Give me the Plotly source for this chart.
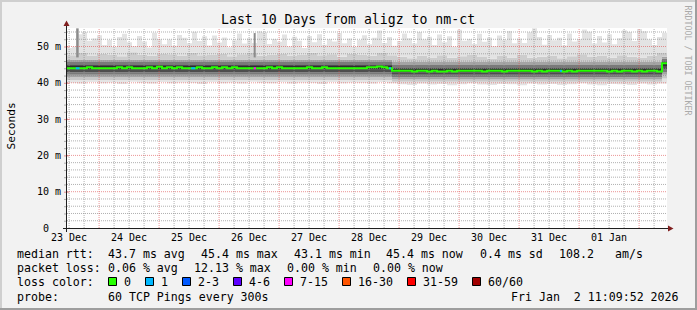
import pandas as pd
import plotly.graph_objects as go

# ---------------- data ----------------
start = pd.Timestamp("2025-12-23 11:10")
end = pd.Timestamp("2026-01-02 11:10")

# median rtt per 2-hour bucket (ms)
median_rtt = [
    44.0, 44.0, 44.0, 44.0, 44.3, 44.0, 44.0, 44.0, 44.0, 44.0,
    44.3, 44.0, 44.3, 44.0, 44.0, 44.0, 44.3, 44.0, 44.4, 44.0,
    44.3, 44.0, 44.3, 44.0, 44.0, 44.0, 44.3, 44.0, 44.0, 44.3,
    44.0, 44.3, 44.0, 44.3, 44.0, 44.0, 44.0, 44.0, 44.0, 44.0,
    44.3, 44.0, 44.3, 44.0, 44.0, 44.0, 44.0, 44.0, 44.3, 44.0,
    44.0, 44.3, 44.0, 44.0, 44.0, 44.0, 44.0, 44.0, 44.0, 44.0,
    44.3, 44.3, 44.5, 44.3, 44.0, 43.3, 43.3, 43.3, 43.3, 43.1,
    43.3, 43.3, 43.1, 43.3, 43.1, 43.1, 43.3, 43.1, 43.3, 43.3,
    43.3, 43.3, 43.3, 43.1, 43.3, 43.3, 43.3, 43.1, 43.3, 43.3,
    43.3, 43.3, 43.3, 43.1, 43.3, 43.1, 43.3, 43.3, 43.3, 43.1,
    43.3, 43.1, 43.3, 43.3, 43.3, 43.3, 43.3, 43.3, 43.1, 43.3,
    43.1, 43.3, 43.3, 43.1, 43.3, 43.1, 43.3, 43.3, 43.1, 45.4,
]

# highest ping per 2-hour bucket (ms)
smoke_max = [
    49.6, 49.9, 53.4, 54.0, 51.6, 52.2, 53.1, 50.4, 51.8, 49.9,
    52.6, 53.5, 51.2, 50.1, 52.9, 51.4, 49.7, 53.8, 52.0, 50.6,
    51.9, 50.2, 53.2, 52.4, 50.9, 54.1, 51.5, 52.8, 50.3, 53.0,
    51.1, 52.5, 49.8, 51.7, 53.6, 50.8, 52.3, 51.0, 54.2, 53.9,
    50.7, 52.1, 51.3, 53.3, 50.0, 52.7, 51.6, 49.6, 52.9, 51.2,
    53.4, 50.5, 52.0, 51.4, 53.7, 50.9, 52.2, 49.9, 51.8, 53.1,
    50.6, 52.4, 54.4, 51.0, 52.6, 50.2, 51.5, 53.6, 52.3, 50.8,
    54.0, 51.9, 52.7, 50.4, 53.3, 51.2, 52.8, 49.9, 54.6, 51.6,
    52.1, 50.7, 53.5, 51.3, 52.5, 50.1, 53.0, 51.8, 54.3, 50.9,
    52.2, 51.0, 53.9, 55.0, 52.6, 50.5, 53.2, 51.7, 52.4, 50.3,
    53.6, 51.4, 52.0, 54.7, 54.1, 50.8, 52.9, 51.1, 53.4, 50.6,
    52.3, 54.5, 54.0, 51.5, 54.8, 54.2, 51.9, 50.4, 52.6, 53.8,
]

# upper smoke edge (95th pct) per 4-hour bucket (ms)
smoke_p95 = [
    47.6, 48.2, 47.4, 48.0, 47.8, 47.3, 48.4, 47.7, 47.5, 48.1,
    47.9, 47.4, 48.3, 47.6, 47.8, 48.0, 47.3, 47.9, 48.2, 47.5,
    47.7, 48.1, 47.4, 47.8, 48.3, 47.6, 47.9, 47.2, 48.0, 47.7,
    47.5, 48.2, 47.6, 47.2, 46.8, 47.5, 47.0, 47.6, 46.9, 47.3,
    47.8, 47.1, 46.7, 47.4, 47.0, 47.7, 46.9, 47.2, 47.5, 46.8,
    47.3, 47.9, 47.1, 47.4, 46.9, 47.6, 47.2, 47.0, 47.5, 48.2,
]

# lowest ping per 4-hour bucket (ms)
smoke_min = [
    40.0, 39.8, 40.2, 39.9, 40.1, 39.7, 40.3, 40.0, 39.8, 40.2,
    39.9, 40.1, 40.0, 39.7, 40.2, 39.9, 40.1, 39.8, 40.3, 40.0,
    39.9, 40.2, 39.8, 40.1, 40.0, 39.7, 40.2, 39.9, 40.1, 40.0,
    39.8, 40.2, 39.9, 39.6, 39.4, 39.8, 39.5, 39.7, 39.3, 39.6,
    39.9, 39.5, 39.4, 39.7, 39.6, 39.3, 39.8, 39.5, 39.7, 39.4,
    39.6, 39.9, 39.5, 39.3, 39.7, 39.6, 39.4, 39.8, 39.5, 39.8,
]

# inner smoke percentiles, constant over three periods (ms)
segment_starts = ["2025-12-23 11:10", "2025-12-28 21:10", "2026-01-02 09:10"]
smoke_p85 = [46.4, 45.7, 47.2]
smoke_p75 = [45.7, 44.9, 46.7]
smoke_p65 = [45.1, 44.3, 46.2]
smoke_p55 = [44.6, 43.8, 45.8]
smoke_p45 = [43.6, 42.9, 44.6]
smoke_p35 = [42.9, 42.2, 43.8]
smoke_p25 = [42.2, 41.5, 43.0]
smoke_p15 = [41.5, 40.9, 42.2]
smoke_p5 = [40.8, 40.3, 41.2]

# short bursts of very slow pings
spike_starts = ["2025-12-23 14:50", "2025-12-26 13:50"]
spike_hours = [1.0, 0.8]
spike_tops = [55.0, 53.7]
spike_bottoms = [47.0, 47.0]

# packet-loss events on the median line
loss_starts = ["2025-12-23 14:40", "2025-12-25 12:50", "2025-12-26 13:50",
               "2025-12-28 20:00", "2025-12-31 16:20"]
loss_hours = [1.5, 1.6, 0.9, 0.8, 0.8]
loss_counts = [1, 1, 8, 1, 1]

loss_labels = ["0", "1", "2-3", "4-6", "7-15", "16-30", "31-59", "60/60"]
loss_limits = [0, 1, 3, 6, 15, 30, 59, 60]
loss_colors = ["#26ff00", "#00b8ff", "#0059ff", "#5e00ff",
               "#ff00ff", "#ff5500", "#ff0000", "#a10000"]

day_labels = ["23 Dec", "24 Dec", "25 Dec", "26 Dec", "27 Dec",
              "28 Dec", "29 Dec", "30 Dec", "31 Dec", "01 Jan"]
y_ticks = [0, 10, 20, 30, 40, 50]
y_labels = ["0\u00a0\u00a0", "10 m", "20 m", "30 m", "40 m", "50 m"]

# ---------------- geometry ----------------
W, H = 697, 310
L, R, T, B = 67, 30, 28, 82
PW, PH = W - L - R, H - T - B
YMAX = 55.1
MONO = "DejaVu Sans Mono"


def px(x):
    return (x - L) / PW


def py(y):
    return (T + PH - y) / PH


t2 = pd.date_range(start, periods=len(median_rtt), freq="2h")
t4 = pd.date_range(start, periods=len(smoke_p95), freq="4h")
tseg = pd.to_datetime(segment_starts)


def step(times, vals):
    return list(times) + [end], list(vals) + [vals[-1]]


fig = go.Figure()

levels = [
    (t4, smoke_min, None),
    (tseg, smoke_p5, "#e4e4e4"),
    (tseg, smoke_p15, "#c8c8c8"),
    (tseg, smoke_p25, "#a4a4a4"),
    (tseg, smoke_p35, "#7a7a7a"),
    (tseg, smoke_p45, "#4e4e4e"),
    (t2, median_rtt, "#2e2e2e"),
    (tseg, smoke_p55, "#2e2e2e"),
    (tseg, smoke_p65, "#4e4e4e"),
    (tseg, smoke_p75, "#7a7a7a"),
    (tseg, smoke_p85, "#a4a4a4"),
    (t4, smoke_p95, "#cdcdcd"),
    (t2, smoke_max, "#e3e3e3"),
]
for times, vals, col in levels:
    xs, ys = step(times, vals)
    fig.add_trace(go.Scatter(
        x=xs, y=ys, mode="lines", line=dict(width=0, shape="hv"),
        fill=None if col is None else "tonexty",
        fillcolor=col, hoverinfo="skip", showlegend=False))

for s, h, top, bot in zip(spike_starts, spike_hours, spike_tops, spike_bottoms):
    a = pd.Timestamp(s)
    b = a + pd.Timedelta(hours=h)
    fig.add_trace(go.Scatter(
        x=[a, a, b, b], y=[bot, top, top, bot], mode="lines",
        line=dict(width=0), fill="toself", fillcolor="#8c8c8c",
        hoverinfo="skip", showlegend=False))

# grid (drawn over the smoke, under the median)
grid_t = pd.date_range("2025-12-23 12:00", "2026-01-02 06:00", freq="6h")
vmin_x, vmin_y, vmaj_x, vmaj_y = [], [], [], []
for g in grid_t:
    if g.hour == 0:
        vmaj_x += [g, g, None]
        vmaj_y += [0, YMAX, None]
    else:
        vmin_x += [g, g, None]
        vmin_y += [0, YMAX, None]
hmin_x, hmin_y, hmaj_x, hmaj_y = [], [], [], []
for v in range(2, 55, 2):
    if v % 10 == 0:
        hmaj_x += [start, end, None]
        hmaj_y += [v, v, None]
    else:
        hmin_x += [start, end, None]
        hmin_y += [v, v, None]
GRID = "rgba(143,143,143,0.7)"
MGRID = "rgba(222,79,79,0.6)"
for xs, ys, col in [(vmin_x, vmin_y, GRID), (hmin_x, hmin_y, GRID),
                    (vmaj_x, vmaj_y, MGRID), (hmaj_x, hmaj_y, MGRID)]:
    fig.add_trace(go.Scatter(
        x=xs, y=ys, mode="lines", line=dict(width=1, color=col, dash="1px,1px"),
        hoverinfo="skip", showlegend=False))

xs, ys = step(t2, median_rtt)
fig.add_trace(go.Scatter(x=xs, y=ys, mode="lines",
                         line=dict(width=2, color=loss_colors[0], shape="hv"),
                         hoverinfo="skip", showlegend=False))


def loss_color(n):
    for lim, c in zip(loss_limits, loss_colors):
        if n <= lim:
            return c
    return loss_colors[-1]


for s, h, n in zip(loss_starts, loss_hours, loss_counts):
    a = pd.Timestamp(s)
    b = a + pd.Timedelta(hours=h)
    idx = int((a - start) / pd.Timedelta(hours=2))
    m = median_rtt[idx]
    fig.add_trace(go.Scatter(x=[a, b], y=[m, m], mode="lines",
                             line=dict(width=2, color=loss_color(n)),
                             hoverinfo="skip", showlegend=False))

# ---------------- decorations ----------------
shapes = []
# frame shading
shapes += [
    dict(type="rect", xref="paper", yref="paper", x0=px(0), x1=px(W), y0=py(0), y1=py(2),
         fillcolor="#cfcfcf", line=dict(width=0), layer="above"),
    dict(type="rect", xref="paper", yref="paper", x0=px(0), x1=px(2), y0=py(0), y1=py(H),
         fillcolor="#cfcfcf", line=dict(width=0), layer="above"),
    dict(type="rect", xref="paper", yref="paper", x0=px(0), x1=px(W), y0=py(H - 2), y1=py(H),
         fillcolor="#9e9e9e", line=dict(width=0), layer="above"),
    dict(type="rect", xref="paper", yref="paper", x0=px(W - 2), x1=px(W), y0=py(0), y1=py(H),
         fillcolor="#9e9e9e", line=dict(width=0), layer="above"),
]
# small axis ticks (rrdtool style)
for v in range(2, 55, 2):
    major = v % 10 == 0
    shapes.append(dict(type="line", xref="paper", yref="paper",
                       x0=px(64 if not major else 64), x1=px(69 if major else 66.5),
                       y0=py(228.5 - v * PH / YMAX), y1=py(228.5 - v * PH / YMAX),
                       line=dict(color=MGRID if major else GRID, width=1), layer="above"))
# axes
AX = "#1f1f1f"
shapes += [
    dict(type="line", xref="paper", yref="paper", x0=px(63), x1=px(669), y0=py(228.5), y1=py(228.5),
         line=dict(color=AX, width=1), layer="above"),
    dict(type="line", xref="paper", yref="paper", x0=px(66.5), x1=px(66.5), y0=py(232), y1=py(25),
         line=dict(color=AX, width=1), layer="above"),
]
ARROW = "#801f1f"
shapes += [
    dict(type="path", xref="paper", yref="paper",
         path=f"M {px(668)},{py(225.5)} L {px(673.5)},{py(228.5)} L {px(668)},{py(231.5)} Z",
         fillcolor=ARROW, line=dict(color=ARROW, width=0), layer="above"),
    dict(type="path", xref="paper", yref="paper",
         path=f"M {px(63.5)},{py(26)} L {px(66.5)},{py(20.5)} L {px(69.5)},{py(26)} Z",
         fillcolor=ARROW, line=dict(color=ARROW, width=0), layer="above"),
]

annotations = []


def ann(text, x, y, size=11.6, xanchor="left", color="#000000", angle=0):
    annotations.append(dict(
        text=text, x=px(x), y=py(y), xref="paper", yref="paper",
        xanchor=xanchor, yanchor="middle", showarrow=False, borderpad=0,
        textangle=angle, font=dict(family=MONO, size=size, color=color)))


ann("Last 10 Days from aligz to nm-ct", 347.5, 19.5, size=13.2, xanchor="center")
ann("Seconds", 10.5, 126, size=11.2, xanchor="center", angle=-90)
ann("RRDTOOL / TOBI OETIKER", 687.5, 60, size=8.3, xanchor="center",
    color="#aaaaaa", angle=90)

LY = [254, 268.3, 282, 296.5]
line1 = [("median rtt:", 16), ("43.7 ms avg", 107), ("45.4 ms max", 200),
         ("43.1 ms min", 293), ("45.4 ms now", 385), ("0.4 ms sd", 479),
         ("108.2", 558), ("am/s", 614)]
line2 = [("packet loss:", 16), ("0.06 % avg", 107), ("12.13 % max", 193),
         ("0.00 % min", 286), ("0.00 % now", 372)]
for t, x in line1:
    ann(t, x, LY[0])
for t, x in line2:
    ann(t, x, LY[1])
ann("loss color:", 16, LY[2])
bx = 108
for lab, col in zip(loss_labels, loss_colors):
    shapes.append(dict(type="rect", xref="paper", yref="paper",
                       x0=px(bx + 0.5), x1=px(bx + 8.5), y0=py(277.5), y1=py(285.5),
                       fillcolor=col, line=dict(color="#000000", width=1), layer="above"))
    ann(lab, bx + 15, LY[2])
    bx += 30 + 7 * len(lab)
ann("probe:", 16, LY[3])
ann("60 TCP Pings every 300s", 107, LY[3])
ann("Fri Jan\u00a0\u00a02 11:09:52 2026", 680, LY[3], xanchor="right")

noon = [pd.Timestamp("2025-12-23 12:00") + pd.Timedelta(days=i) for i in range(len(day_labels))]

fig.update_layout(
    width=W, height=H, autosize=False,
    margin=dict(l=L, r=R, t=T, b=B, pad=0),
    paper_bgcolor="#f2f2f2", plot_bgcolor="#ffffff",
    showlegend=False,
    shapes=shapes, annotations=annotations,
    xaxis=dict(type="date", range=[start, end], showgrid=False, zeroline=False,
               showline=False, ticks="", tickvals=noon, ticktext=day_labels,
               ticklabelstandoff=2,
               tickfont=dict(family=MONO, size=10, color="#000000"),
               automargin=False, fixedrange=True),
    yaxis=dict(range=[0, YMAX], showgrid=False, zeroline=False, showline=False,
               ticks="", tickvals=y_ticks, ticktext=y_labels,
               ticklabelstandoff=5,
               tickfont=dict(family=MONO, size=10, color="#000000"),
               automargin=False, fixedrange=True),
)

fig.write_html("out.html")
